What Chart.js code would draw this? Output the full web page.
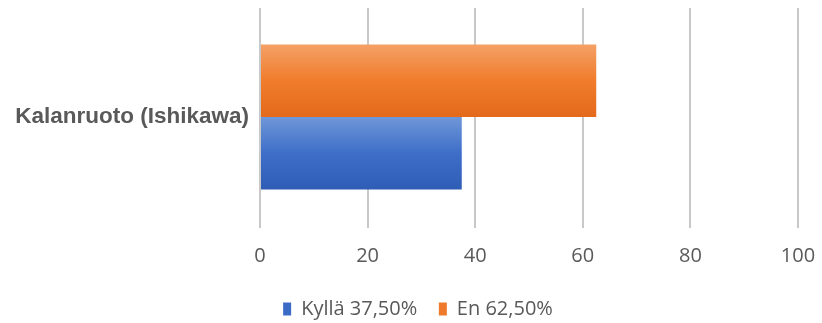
<!DOCTYPE html>
<html>
<head>
<meta charset="utf-8">
<script src="https://cdn.jsdelivr.net/npm/chart.js@4/dist/chart.umd.min.js"></script>
<style>
  html, body { margin: 0; padding: 0; background: #fff; }
  #wrap { width: 822px; height: 323px; }
</style>
</head>
<body>
<div id="wrap"><canvas id="chart" width="822" height="323"></canvas></div>
<script>
const categories = ['Kalanruoto (Ishikawa)'];
const yesLabel = 'Kyllä 37,50%';
const yesValues = [37.5];
const noLabel = 'En 62,50%';
const noValues = [62.5];
const xTicks = [0, 20, 40, 60, 80, 100];

const TEXT = '#595959';
const CAT_PCT = 0.664;

// vertical shading per bar: light top, strong middle, darker bottom
function barGradient(stops, flat) {
    return (ctx) => {
        const chart = ctx.chart;
        const area = chart.chartArea;
        if (!area) return flat;
        const band = area.bottom - area.top;
        const thick = band * CAT_PCT / 2;
        const mid = (area.top + area.bottom) / 2;
        const top = ctx.datasetIndex === 0 ? mid - thick : mid;
        const g = chart.ctx.createLinearGradient(0, top, 0, top + thick);
        g.addColorStop(0, stops[0]);
        g.addColorStop(0.5, stops[1]);
        g.addColorStop(1, stops[2]);
        return g;
    };
}

const flatColors = ['#ef7a2c', '#3a6cc6'];

// keep the plot edges where the layout puts them, no label overhang
function noPadding(axis) {
    axis.paddingTop = 0;
    axis.paddingBottom = 0;
    axis.paddingLeft = 0;
    axis.paddingRight = 0;
}

// nudge the legend row a little right and down
const legendNudge = {
    id: 'legendNudge',
    afterLayout(chart) {
        const lg = chart.legend;
        if (!lg) return;
        lg.left += 19;
        lg.right += 19;
        lg.top += 6;
        lg.bottom += 6;
    },
};

new Chart(document.getElementById('chart'), {
    type: 'bar',
    data: {
        labels: categories,
        datasets: [
            {
                label: noLabel,
                data: noValues,
                backgroundColor: barGradient(['#f4a066', '#f07c2c', '#e4691b'], flatColors[0]),
                borderWidth: 0,
                categoryPercentage: CAT_PCT,
                barPercentage: 1,
            },
            {
                label: yesLabel,
                data: yesValues,
                backgroundColor: barGradient(['#6f97d8', '#3e6ec8', '#2f5db6'], flatColors[1]),
                borderWidth: 0,
                categoryPercentage: CAT_PCT,
                barPercentage: 1,
            },
        ],
    },
    plugins: [legendNudge],
    options: {
        indexAxis: 'y',
        responsive: false,
        animation: false,
        layout: {
            padding: { left: 0, right: 24, top: 8, bottom: 0 },
        },
        plugins: {
            tooltip: { enabled: false },
            legend: {
                position: 'bottom',
                reverse: true,
                labels: {
                    color: TEXT,
                    boxWidth: 8,
                    boxHeight: 13,
                    padding: 6,
                    font: { family: 'Open Sans', size: 20 },
                    generateLabels: (chart) => {
                        const items = Chart.defaults.plugins.legend.labels.generateLabels(chart);
                        items.forEach((it) => {
                            it.fillStyle = flatColors[it.datasetIndex];
                            it.lineWidth = 0;
                            // wider gap after the first entry
                            if (it.datasetIndex === 1) it.text += '\u00a0\u00a0\u00a0';
                        });
                        return items;
                    },
                },
            },
        },
        scales: {
            x: {
                min: 0,
                max: 100,
                afterBuildTicks: (axis) => {
                    axis.ticks = xTicks.map((v) => ({ value: v }));
                },
                afterFit: (axis) => {
                    axis.height = 61;
                    noPadding(axis);
                },
                grid: {
                    color: '#c8c8c8',
                    lineWidth: 2,
                    tickLength: 2,
                },
                border: { display: false },
                ticks: {
                    color: TEXT,
                    padding: 16,
                    font: { family: 'Open Sans', size: 20 },
                },
            },
            y: {
                afterFit: (axis) => {
                    axis.width = 260;
                    noPadding(axis);
                },
                grid: { display: false },
                border: { display: false },
                ticks: {
                    color: TEXT,
                    padding: 3,
                    font: { family: 'Liberation Sans', size: 22.5, weight: 'bold' },
                },
            },
        },
    },
});
</script>
</body>
</html>
